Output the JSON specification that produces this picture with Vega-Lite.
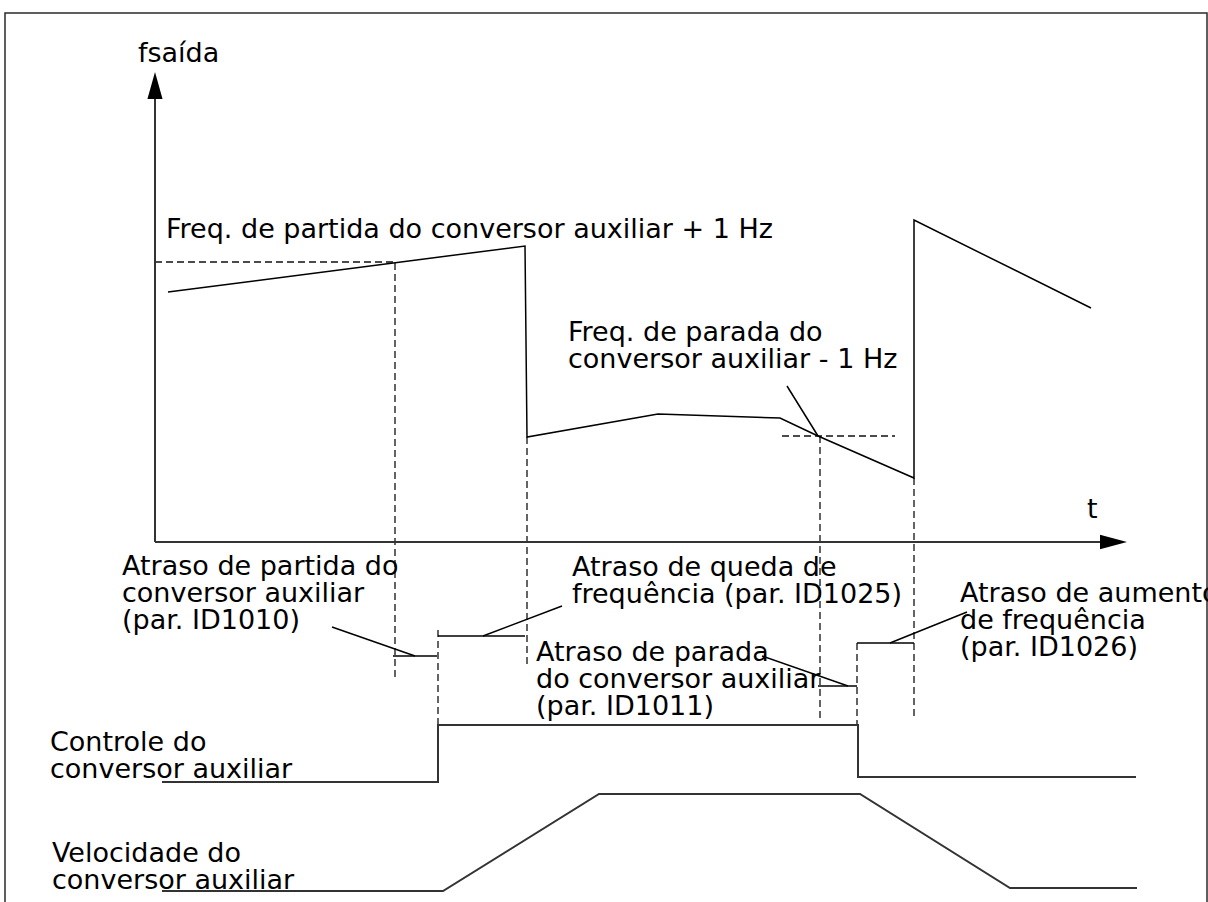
{
  "$schema": "https://vega.github.io/schema/vega-lite/v6.json",
  "width": 1208,
  "height": 902,
  "padding": 0,
  "autosize": {"type": "none"},
  "background": "white",
  "config": {"view": {"stroke": null}},
  "datasets": {
    "frame": [
      {"id": "fr", "o": 1, "x": 5, "y": 902},
      {"id": "fr", "o": 2, "x": 5, "y": 13},
      {"id": "fr", "o": 3, "x": 1207, "y": 13},
      {"id": "fr", "o": 4, "x": 1207, "y": 902}
    ],
    "thick": [
      {"id": "ya", "o": 1, "x": 155, "y": 99},
      {"id": "ya", "o": 2, "x": 155, "y": 542},
      {"id": "xa", "o": 1, "x": 155, "y": 542},
      {"id": "xa", "o": 2, "x": 1100, "y": 542},
      {"id": "ctrl", "o": 1, "x": 162, "y": 782},
      {"id": "ctrl", "o": 2, "x": 438, "y": 782},
      {"id": "ctrl", "o": 3, "x": 438, "y": 725},
      {"id": "ctrl", "o": 4, "x": 858, "y": 725},
      {"id": "ctrl", "o": 5, "x": 858, "y": 777},
      {"id": "ctrl", "o": 6, "x": 1136, "y": 777},
      {"id": "vel", "o": 1, "x": 162, "y": 891},
      {"id": "vel", "o": 2, "x": 443, "y": 891},
      {"id": "vel", "o": 3, "x": 599, "y": 794},
      {"id": "vel", "o": 4, "x": 860, "y": 794},
      {"id": "vel", "o": 5, "x": 1010, "y": 888},
      {"id": "vel", "o": 6, "x": 1137, "y": 888}
    ],
    "thin": [
      {"id": "f", "o": 1, "x": 168, "y": 292},
      {"id": "f", "o": 2, "x": 525, "y": 246},
      {"id": "f", "o": 3, "x": 527, "y": 437},
      {"id": "f", "o": 4, "x": 658, "y": 414},
      {"id": "f", "o": 5, "x": 780, "y": 418},
      {"id": "f", "o": 6, "x": 818, "y": 436},
      {"id": "f", "o": 7, "x": 914, "y": 478},
      {"id": "f", "o": 8, "x": 914, "y": 220},
      {"id": "f", "o": 9, "x": 1091, "y": 308},
      {"id": "d1", "o": 1, "x": 393, "y": 656},
      {"id": "d1", "o": 2, "x": 437, "y": 656},
      {"id": "d2", "o": 1, "x": 438, "y": 636},
      {"id": "d2", "o": 2, "x": 525, "y": 636},
      {"id": "d3", "o": 1, "x": 818, "y": 686},
      {"id": "d3", "o": 2, "x": 857, "y": 686},
      {"id": "d4", "o": 1, "x": 857, "y": 643},
      {"id": "d4", "o": 2, "x": 914, "y": 643},
      {"id": "l1", "o": 1, "x": 332, "y": 627},
      {"id": "l1", "o": 2, "x": 415, "y": 656},
      {"id": "l2", "o": 1, "x": 483, "y": 636},
      {"id": "l2", "o": 2, "x": 562, "y": 606},
      {"id": "l3", "o": 1, "x": 762, "y": 656},
      {"id": "l3", "o": 2, "x": 848, "y": 686},
      {"id": "l4", "o": 1, "x": 890, "y": 643},
      {"id": "l4", "o": 2, "x": 967, "y": 612},
      {"id": "l5", "o": 1, "x": 787, "y": 386},
      {"id": "l5", "o": 2, "x": 818, "y": 436}
    ],
    "dashed": [
      {"id": "h1", "o": 1, "x": 155, "y": 262},
      {"id": "h1", "o": 2, "x": 393, "y": 262},
      {"id": "v1", "o": 1, "x": 395, "y": 263},
      {"id": "v1", "o": 2, "x": 395, "y": 677},
      {"id": "v2", "o": 1, "x": 527, "y": 437},
      {"id": "v2", "o": 2, "x": 527, "y": 665},
      {"id": "h2", "o": 1, "x": 782, "y": 436},
      {"id": "h2", "o": 2, "x": 895, "y": 436},
      {"id": "v3", "o": 1, "x": 820, "y": 436},
      {"id": "v3", "o": 2, "x": 820, "y": 720},
      {"id": "v4", "o": 1, "x": 914, "y": 478},
      {"id": "v4", "o": 2, "x": 914, "y": 716},
      {"id": "v5", "o": 1, "x": 438, "y": 630},
      {"id": "v5", "o": 2, "x": 438, "y": 724},
      {"id": "v6", "o": 1, "x": 857, "y": 643},
      {"id": "v6", "o": 2, "x": 857, "y": 725}
    ],
    "arrowUp": [{"x": 155, "y": 85.5}],
    "arrowRight": [{"x": 1113.5, "y": 542}],
    "labels": [
      {"x": 138, "y": 62, "text": "fsaída"},
      {"x": 166, "y": 238, "text": "Freq. de partida do conversor auxiliar + 1 Hz"},
      {"x": 568, "y": 341, "text": "Freq. de parada do\nconversor auxiliar - 1 Hz"},
      {"x": 1087, "y": 518, "text": "t"},
      {"x": 122, "y": 575, "text": "Atraso de partida do\nconversor auxiliar\n(par. ID1010)"},
      {"x": 572, "y": 576, "text": "Atraso de queda de\nfrequência (par. ID1025)"},
      {"x": 536, "y": 661, "text": "Atraso de parada\ndo conversor auxiliar\n(par. ID1011)"},
      {"x": 960, "y": 602, "text": "Atraso de aumento\nde frequência\n(par. ID1026)"},
      {"x": 50, "y": 751, "text": "Controle do\nconversor auxiliar"},
      {"x": 52, "y": 862, "text": "Velocidade do\nconversor auxiliar"}
    ]
  },
  "encoding": {
    "x": {"field": "x", "type": "quantitative", "scale": {"domain": [0, 1208], "range": [0, 1208], "zero": false, "nice": false}, "axis": null},
    "y": {"field": "y", "type": "quantitative", "scale": {"domain": [0, 902], "range": [0, 902], "zero": false, "nice": false}, "axis": null}
  },
  "layer": [
    {
      "data": {"name": "frame"},
      "mark": {"type": "line", "color": "#2a2a2a", "strokeWidth": 1.5},
      "encoding": {"detail": {"field": "id"}, "order": {"field": "o", "type": "quantitative"}}
    },
    {
      "data": {"name": "dashed"},
      "mark": {"type": "line", "color": "#111111", "strokeWidth": 1.3, "strokeDash": [7, 4]},
      "encoding": {"detail": {"field": "id"}, "order": {"field": "o", "type": "quantitative"}}
    },
    {
      "data": {"name": "thick"},
      "mark": {"type": "line", "color": "#333333", "strokeWidth": 2},
      "encoding": {"detail": {"field": "id"}, "order": {"field": "o", "type": "quantitative"}}
    },
    {
      "data": {"name": "thin"},
      "mark": {"type": "line", "color": "#000000", "strokeWidth": 1.5},
      "encoding": {"detail": {"field": "id"}, "order": {"field": "o", "type": "quantitative"}}
    },
    {
      "data": {"name": "arrowUp"},
      "mark": {"type": "point", "shape": "M0,-1L0.56,1L-0.56,1Z", "size": 729, "filled": true, "color": "#000000", "opacity": 1}
    },
    {
      "data": {"name": "arrowRight"},
      "mark": {"type": "point", "shape": "M1,0L-1,-0.53L-1,0.53Z", "size": 729, "filled": true, "color": "#000000", "opacity": 1}
    },
    {
      "data": {"name": "labels"},
      "mark": {"type": "text", "font": "DejaVu Sans", "fontSize": 27, "align": "left", "baseline": "alphabetic", "lineBreak": "\n", "lineHeight": 27, "color": "#000000"},
      "encoding": {"text": {"field": "text"}}
    }
  ]
}
